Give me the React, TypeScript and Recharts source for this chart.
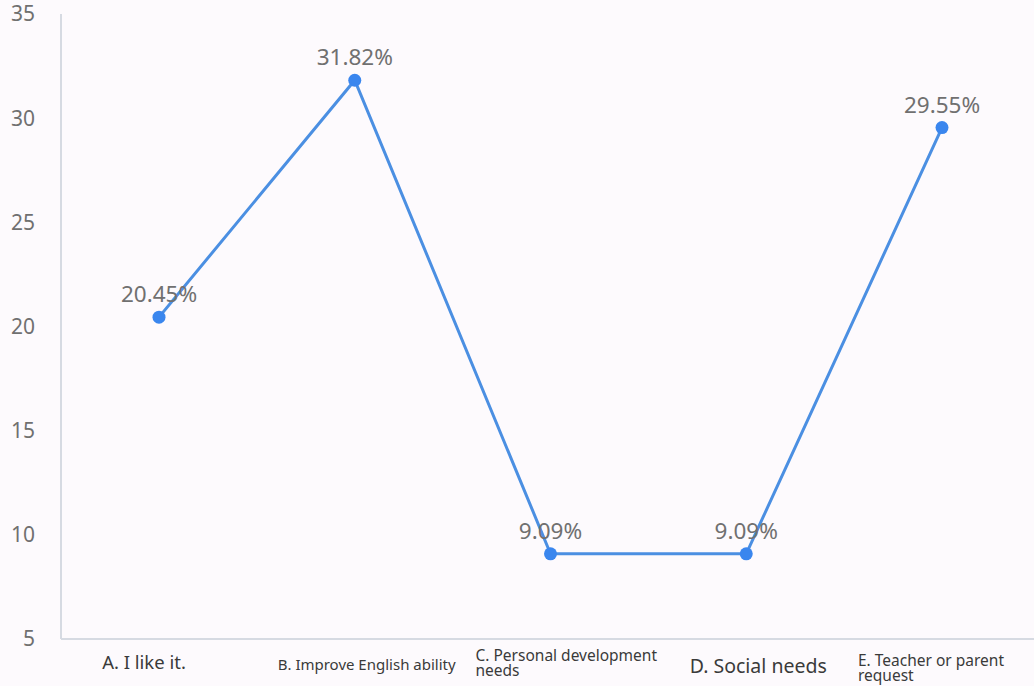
import React from 'react';
import { LineChart, Line, XAxis, YAxis, LabelList } from 'recharts';

const categories = [
  'A. I like it.',
  'B. Improve English ability',
  'C. Personal development needs',
  'D. Social needs',
  'E. Teacher or parent request',
];
const percentages = [20.45, 31.82, 9.09, 9.09, 29.55];
const yTicks = [5, 10, 15, 20, 25, 30, 35];

// split lines for the wrapped category labels
const tickLines: string[][] = [
  ['A. I like it.'],
  ['B. Improve English ability'],
  ['C. Personal development', 'needs'],
  ['D. Social needs'],
  ['E. Teacher or parent', 'request'],
];

const tickLook = [
  { size: 18.5, anchor: 'middle', dx: -15, dy: 22 },
  { size: 15, anchor: 'middle', dx: 12, dy: 23 },
  { size: 15.5, anchor: 'start', dx: -75, dy: 14 },
  { size: 19.5, anchor: 'middle', dx: 12, dy: 26 },
  { size: 15.5, anchor: 'start', dx: -84, dy: 19 },
];

const data = categories.map((name, i) => ({ name, value: percentages[i] }));

const FONT = '"Noto Sans", "Open Sans", sans-serif';

function CategoryTick(props: any) {
  const { x, y, payload } = props;
  const i = payload.index;
  const look = tickLook[i];
  return (
    <text
      x={x + look.dx}
      y={y + look.dy}
      textAnchor={look.anchor}
      fontSize={look.size}
      fill="#3a3a3a"
      fontFamily={FONT}
    >
      {tickLines[i].map((line, k) => (
        <tspan key={k} x={x + look.dx} dy={k === 0 ? 0 : 15}>
          {line}
        </tspan>
      ))}
    </text>
  );
}

export default function App() {
  return (
    <div
      style={{
        position: 'absolute',
        left: 0,
        top: 0,
        width: 1034,
        height: 686,
        overflow: 'hidden',
        background: '#fdfafd',
      }}
    >
      <LineChart
        width={1040}
        height={686}
        data={data}
        margin={{ top: 14, right: 0, bottom: 0, left: 0 }}
      >
        <XAxis
          dataKey="name"
          height={47}
          padding={{ left: 98, right: 98 }}
          tickLine={false}
          axisLine={{ stroke: '#d6dae2', strokeWidth: 2 }}
          tick={<CategoryTick />}
          interval={0}
        />
        <YAxis
          width={61}
          domain={[5, 35]}
          ticks={yTicks}
          tickLine={false}
          axisLine={{ stroke: '#d6dae2', strokeWidth: 2 }}
          tick={{ fontSize: 21, fill: '#707070', fontFamily: FONT }}
          tickMargin={20}
        />
        <Line
          type="linear"
          dataKey="value"
          stroke="#4b8fe2"
          strokeWidth={3}
          dot={{ r: 6.5, fill: '#3a86ee', stroke: '#3a86ee', strokeWidth: 0 }}
          isAnimationActive={false}
        >
          <LabelList
            dataKey="value"
            position="top"
            offset={15}
            formatter={(v: any) => `${Number(v).toFixed(2)}%`}
            style={{ fontSize: 22.5, fill: '#707070', fontFamily: FONT }}
          />
        </Line>
      </LineChart>
    </div>
  );
}
